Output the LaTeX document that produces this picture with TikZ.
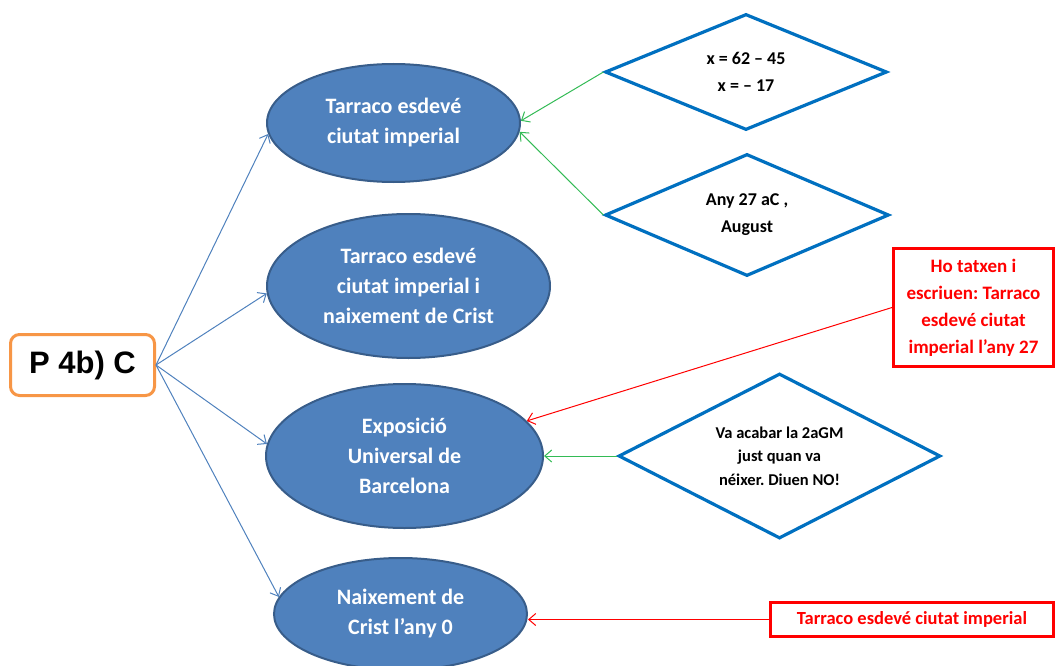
\documentclass[tikz,border=0pt]{standalone}
\usepackage{fontspec}
\setmainfont{Carlito}
\newfontfamily\labelsans{Liberation Sans}
\usetikzlibrary{shapes.geometric,arrows.meta}

\definecolor{topicblue}{HTML}{4F81BD}
\definecolor{topicedge}{HTML}{385D8A}
\definecolor{diamondblue}{HTML}{0070C0}
\definecolor{linkgreen}{HTML}{33BB55}
\definecolor{alertred}{HTML}{FF0000}
\definecolor{rootorange}{HTML}{F79646}

\frenchspacing

\begin{document}
\begin{tikzpicture}[x=1pt,y=-1pt,
  topic/.style={ellipse, draw=topicedge, line width=2pt, fill=topicblue,
    text=white, inner sep=0pt, align=center,
    font=\fontsize{22}{30}\selectfont\bfseries},
  question/.style={diamond, aspect=2.4, draw=diamondblue, line width=3.2pt,
    fill=white, inner sep=0pt, align=center,
    font=\fontsize{18}{27}\selectfont\bfseries},
  note/.style={rectangle, draw=alertred, line width=3pt, fill=white,
    text=alertred, inner sep=0pt, align=center},
  link/.style={-{Straight Barb[length=7pt,width=12pt]}, line width=1pt},
]
\useasboundingbox (0,0) rectangle (1057,666);

% root box
\node[draw=rootorange, line width=3pt, rounded corners=9pt, fill=white,
  minimum width=144pt, minimum height=61pt, inner sep=0pt,
  font=\labelsans\fontsize{31}{31}\selectfont\bfseries] (root) at (82.5,365) {P 4b) C};

% answer options
\node[topic, minimum width=253pt, minimum height=118pt] (e1) at (393.5,123)
  {Tarraco esdevé\\ciutat imperial};
\node[topic, minimum width=283pt, minimum height=144pt] (e2) at (408.5,286)
  {Tarraco esdevé\\ciutat imperial i\\naixement de Crist};
\node[topic, minimum width=277pt, minimum height=144pt] (e3) at (404.5,456)
  {Exposició\\Universal de\\Barcelona};
\node[topic, minimum width=253pt, minimum height=112pt] (e4) at (400.5,614)
  {Naixement de\\Crist l’any 0};

% reasoning diamonds
\node[question, minimum width=282pt, minimum height=116pt] (d1) at (746,72)
  {x = 62 – 45\\x = – 17};
\node[question, minimum width=284pt, minimum height=122pt] (d2) at (747,215)
  {Any 27 aC ,\\August};
\node[question, minimum width=322pt, minimum height=165pt,
  font=\fontsize{16.5}{23.5}\selectfont\bfseries] (d3) at (779.5,456)
  {Va acabar la 2aGM\\just quan va\\néixer. Diuen NO!};

% corrections
\node[note, minimum width=160pt, minimum height=118pt,
  font=\fontsize{19}{27}\selectfont\bfseries] (n1) at (973.5,307.5)
  {Ho tatxen i\\escriuen: Tarraco\\esdevé ciutat\\imperial l’any 27};
\node[note, minimum width=283pt, minimum height=34pt,
  font=\fontsize{18.5}{22}\selectfont\bfseries] (n2) at (912,619.5)
  {Tarraco esdevé ciutat imperial};

% connectors
\draw[link, draw=topicblue] (root.east) -- (e1.185);
\draw[link, draw=topicblue] (root.east) -- (e2.183);
\draw[link, draw=topicblue] (root.east) -- (e3.175);
\draw[link, draw=topicblue] (root.east) -- (e4.172);

\draw[link, draw=linkgreen] (d1.west) -- (e1.1.5);
\draw[link, draw=linkgreen] (d2.west) -- (e1.356);
\draw[link, draw=linkgreen] (d3.west) -- (e3.east);

\draw[link, draw=alertred] (n1.west) -- (e3.16);
\draw[link, draw=alertred] (n2.west) -- (n2.west -| e4.east);
\end{tikzpicture}
\end{document}
